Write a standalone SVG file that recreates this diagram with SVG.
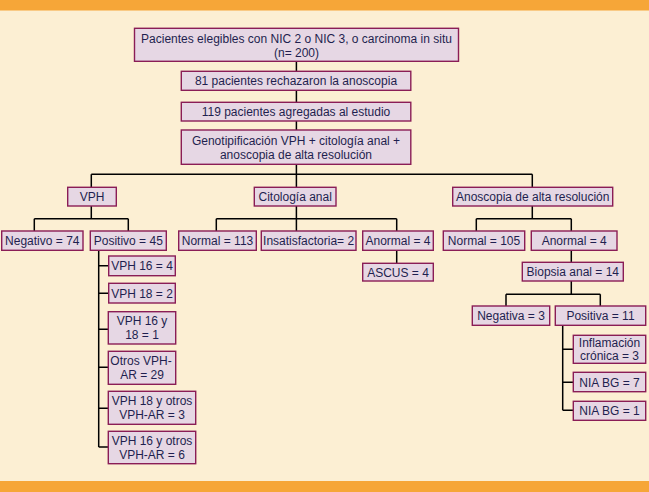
<svg xmlns="http://www.w3.org/2000/svg" width="649" height="492" viewBox="0 0 649 492">
<style>
.b{fill:#e6d7e4;stroke:#8a1d56;stroke-width:1.4}
.t{font-family:"Liberation Sans",Arial,sans-serif;font-size:12px;fill:#1f1f4f;text-anchor:middle}
.c{stroke:#000;stroke-width:1.5;fill:none}
</style>
<rect x="0" y="0" width="649" height="492" fill="#fcefd3"/>
<rect x="0" y="0" width="649" height="10.5" fill="#f6a638"/>
<rect x="0" y="481" width="649" height="11" fill="#f6a638"/>
<g id="connectors" class="c">
<path d="M296.4 61.3V71.3M296.4 90.3V102.3M296.4 121V130M296.4 164.3V174.3"/>
<path d="M91.3 174.3H532.3M91.3 174.3V187.3M296.4 174.3V187.3M532.3 174.3V187.3"/>
<path d="M91.3 206V218.7M34.3 218.7H128.3M34.3 218.7V231M128.3 218.7V231"/>
<path d="M296.4 206V231M216.3 218.7H396.7M216.3 218.7V231M396.7 218.7V231M396.7 250.3V263.3"/>
<path d="M532.3 206V218.7M476.3 218.7H571.3M476.3 218.7V231M571.3 218.7V231M571.3 250.3V262.3"/>
<path d="M571.3 281V294.3M506 294.3H600.3M506 294.3V306M600.3 294.3V306"/>
<path d="M562.7 325.3V410.3M562.7 349.3H573.3M562.7 382.3H573.3M562.7 410.3H573.3"/>
<path d="M98.7 250.3V447M98.7 265.7H108.7M98.7 293.3H108.7M98.7 329.3H108.3M98.7 367.3H108.3M98.7 408.3H108.3M98.7 447H108.3"/>
</g>
<g id="n1"><rect class="b" x="134.5" y="28.3" width="324" height="33"/><text class="t" x="296.5" y="42.5">Pacientes elegibles con NIC 2 o NIC 3, o carcinoma in situ</text><text class="t" x="296.5" y="56.5">(n= 200)</text></g>
<g id="n2"><rect class="b" x="181.3" y="71.3" width="229.5" height="19"/><text class="t" x="296" y="85">81 pacientes rechazaron la anoscopia</text></g>
<g id="n3"><rect class="b" x="181.3" y="102.3" width="229.5" height="18.7"/><text class="t" x="296" y="116">119 pacientes agregadas al estudio</text></g>
<g id="n4"><rect class="b" x="181.3" y="130" width="229.5" height="34.3"/><text class="t" x="296" y="144.5">Genotipificación VPH + citología anal +</text><text class="t" x="296" y="158.5">anoscopia de alta resolución</text></g>
<g id="vph"><rect class="b" x="67.7" y="187.3" width="48.6" height="18.7"/><text class="t" x="92" y="201">VPH</text></g>
<g id="cit"><rect class="b" x="254.3" y="187.3" width="81.7" height="18.7"/><text class="t" x="295.2" y="201">Citología anal</text></g>
<g id="ano"><rect class="b" x="452.7" y="187.3" width="160" height="18.7"/><text class="t" x="532.7" y="201">Anoscopia de alta resolución</text></g>
<g id="neg74"><rect class="b" x="1.7" y="231" width="81.3" height="19.3"/><text class="t" x="42.3" y="245">Negativo = 74</text></g>
<g id="pos45"><rect class="b" x="90.3" y="231" width="76" height="19.3"/><text class="t" x="128.3" y="245">Positivo = 45</text></g>
<g id="norm113"><rect class="b" x="178.7" y="231" width="77.6" height="19.3"/><text class="t" x="217.5" y="245">Normal = 113</text></g>
<g id="insat"><rect class="b" x="261.3" y="231" width="94.7" height="19.3"/><text class="t" x="308.6" y="245">Insatisfactoria= 2</text></g>
<g id="anorm4c"><rect class="b" x="362.7" y="231" width="70.6" height="19.3"/><text class="t" x="398" y="245">Anormal = 4</text></g>
<g id="ascus"><rect class="b" x="362.7" y="263.3" width="70.6" height="17.7"/><text class="t" x="398" y="276.5">ASCUS = 4</text></g>
<g id="norm105"><rect class="b" x="443.3" y="231" width="81.4" height="19.3"/><text class="t" x="484" y="245">Normal = 105</text></g>
<g id="anorm4a"><rect class="b" x="531.3" y="231" width="85.7" height="19.3"/><text class="t" x="574.2" y="245">Anormal = 4</text></g>
<g id="biop"><rect class="b" x="522.3" y="262.3" width="101" height="18.7"/><text class="t" x="572.8" y="276">Biopsia anal = 14</text></g>
<g id="neg3"><rect class="b" x="472.3" y="306" width="77.4" height="19.3"/><text class="t" x="511" y="320">Negativa = 3</text></g>
<g id="pos11"><rect class="b" x="555.3" y="306" width="90.4" height="19.3"/><text class="t" x="600.5" y="320">Positiva = 11</text></g>
<g id="infl"><rect class="b" x="573.3" y="335.3" width="72.4" height="28"/><text class="t" x="609.5" y="347">Inflamación</text><text class="t" x="609.5" y="360">crónica = 3</text></g>
<g id="nia7"><rect class="b" x="573.3" y="372.3" width="72.4" height="19.4"/><text class="t" x="609.5" y="386.5">NIA BG = 7</text></g>
<g id="nia1"><rect class="b" x="573.3" y="401.3" width="72.4" height="19"/><text class="t" x="609.5" y="415">NIA BG = 1</text></g>
<g id="v16"><rect class="b" x="108.7" y="256" width="66.6" height="19.7"/><text class="t" x="142" y="270">VPH 16 = 4</text></g>
<g id="v18"><rect class="b" x="108.7" y="283.3" width="66.6" height="19.7"/><text class="t" x="142" y="297.5">VPH 18 = 2</text></g>
<g id="v1618"><rect class="b" x="108.3" y="311.7" width="67.4" height="32.3"/><text class="t" x="142" y="325">VPH 16 y</text><text class="t" x="142" y="339">18 = 1</text></g>
<g id="otros"><rect class="b" x="108.3" y="351.3" width="67.4" height="33"/><text class="t" x="141" y="365">Otros VPH-</text><text class="t" x="142" y="379">AR = 29</text></g>
<g id="v18o"><rect class="b" x="108.3" y="391.3" width="87.4" height="33"/><text class="t" x="152" y="405">VPH 18 y otros</text><text class="t" x="152" y="419">VPH-AR = 3</text></g>
<g id="v16o"><rect class="b" x="108.3" y="431.3" width="87.4" height="32.4"/><text class="t" x="152" y="445">VPH 16 y otros</text><text class="t" x="152" y="459">VPH-AR = 6</text></g>
</svg>
